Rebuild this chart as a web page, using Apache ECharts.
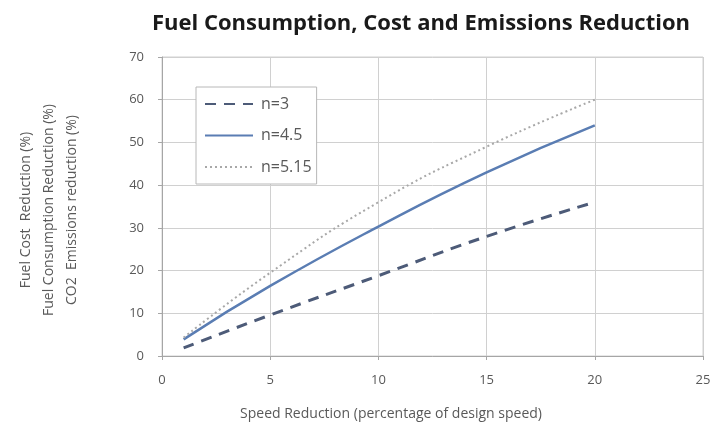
<!DOCTYPE html>
<html>
<head>
<meta charset="utf-8">
<script src="https://cdn.jsdelivr.net/npm/echarts@6/dist/echarts.min.js"></script>
<style>
html,body{margin:0;padding:0;background:#fff;}
#c{width:715px;height:427px;}
</style>
</head>
<body>
<div id="c"></div>
<script>
const speedReduction = [1, 5, 10, 15, 20];
const n3 = [1.9, 9.6, 18.8, 28, 36];
const n45 = [3.9, 16.4, 30.3, 43, 54];
const n515 = [4.3, 19.5, 36, 49, 60];
const seriesNames = ['n=3', 'n=4.5', 'n=5.15'];
const xTicks = [0, 5, 10, 15, 20, 25];
const yTicks = [0, 10, 20, 30, 40, 50, 60, 70];

const pairs = v => speedReduction.map((x, i) => [x, v[i]]);
const font = '"Open Sans", sans-serif';
const gray = '#595959';
const chart = echarts.init(document.getElementById('c'));
chart.setOption({
  animation: false,
  backgroundColor: '#fff',
  title: {
    text: 'Fuel Consumption, Cost and Emissions Reduction',
    left: 416, top: 8, textAlign: 'center',
    textStyle: {fontFamily: font, fontSize: 22, fontWeight: 'bold', color: '#1a1a1a'}
  },
  grid: {left: 162, right: 12, top: 57, bottom: 71, show: true, borderColor: '#d0d0d0', borderWidth: 1,
         outerBoundsMode: 'none', containLabel: false},
  legend: {
    orient: 'vertical', left: 196, top: 87,
    itemWidth: 48, itemHeight: 14, itemGap: 15.5,
    padding: [9, 5, 9, 8],
    borderColor: '#b8b8b8', borderWidth: 1, backgroundColor: '#fff',
    itemStyle: {opacity: 0},
    textStyle: {fontFamily: font, fontSize: 16, color: gray, padding: [0, 0, 0, 3]},
    data: seriesNames
  },
  graphic: [
    {type: 'text', x: 49, y: 210, rotation: Math.PI / 2,
     style: {text: 'Fuel Cost  Reduction (%)\nFuel Consumption Reduction (%)\nCO2  Emissions reduction (%)',
             fontFamily: font, fontSize: 14, fill: gray, lineHeight: 23, align: 'center', verticalAlign: 'middle'}},
    {type: 'text', x: 391, y: 414,
     style: {text: 'Speed Reduction (percentage of design speed)',
             fontFamily: font, fontSize: 14, fill: gray, align: 'center', verticalAlign: 'middle'}}
  ],
  xAxis: {
    type: 'value', min: xTicks[0], max: xTicks[xTicks.length - 1], interval: 5,
    axisLine: {lineStyle: {color: '#a6a6a6'}},
    axisTick: {show: true, length: 4, lineStyle: {color: '#a6a6a6'}},
    axisLabel: {fontFamily: font, fontSize: 13, color: gray, margin: 18},
    splitLine: {lineStyle: {color: '#d0d0d0'}}
  },
  yAxis: {
    type: 'value', min: yTicks[0], max: yTicks[yTicks.length - 1], interval: 10,
    axisLine: {show: true, lineStyle: {color: '#a6a6a6'}},
    axisTick: {show: true, length: 4, lineStyle: {color: '#a6a6a6'}},
    axisLabel: {fontFamily: font, fontSize: 13, color: gray, margin: 18},
    splitLine: {lineStyle: {color: '#d0d0d0'}}
  },
  series: [
    {name: seriesNames[0], type: 'line', smooth: true, symbol: 'none', data: pairs(n3),
     color: '#4d5b78', lineStyle: {width: 3, type: [11, 8], color: '#4d5b78'}},
    {name: seriesNames[1], type: 'line', smooth: true, symbol: 'none', data: pairs(n45),
     color: '#5a7db3', lineStyle: {width: 2.5, type: 'solid', color: '#5a7db3'}},
    {name: seriesNames[2], type: 'line', smooth: true, symbol: 'none', data: pairs(n515),
     color: '#a8a8a8', lineStyle: {width: 2, type: [2, 3], color: '#a8a8a8'}}
  ]
});
</script>
</body>
</html>
